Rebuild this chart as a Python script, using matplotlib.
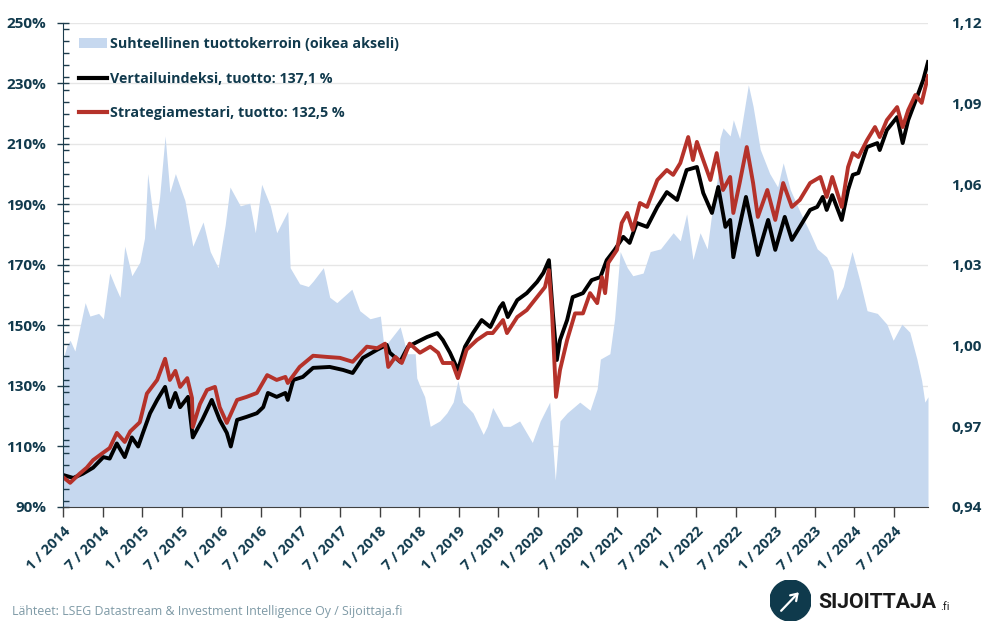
import matplotlib

matplotlib.use("Agg")
import matplotlib.pyplot as plt
from matplotlib.lines import Line2D
from matplotlib.patches import Circle, Patch
from matplotlib.ticker import FixedLocator, MultipleLocator

# relative return ratio (right axis), decimal years
ratio_t = [2014.00, 2014.05, 2014.09, 2014.15, 2014.28, 2014.34, 2014.45, 2014.51, 2014.59, 2014.66,
           2014.72, 2014.78, 2014.87, 2014.97, 2015.03, 2015.07, 2015.16, 2015.22, 2015.29, 2015.35,
           2015.42, 2015.54, 2015.64, 2015.77, 2015.86, 2015.96, 2016.05, 2016.11, 2016.24, 2016.36,
           2016.43, 2016.51, 2016.62, 2016.70, 2016.84, 2016.87, 2016.99, 2017.10, 2017.16, 2017.29,
           2017.37, 2017.46, 2017.65, 2017.75, 2017.88, 2018.01, 2018.05, 2018.10, 2018.26, 2018.35,
           2018.45, 2018.47, 2018.51, 2018.57, 2018.64, 2018.76, 2018.85, 2018.93, 2018.99, 2019.05,
           2019.18, 2019.31, 2019.36, 2019.43, 2019.56, 2019.65, 2019.77, 2019.93, 2020.03, 2020.15,
           2020.22, 2020.28, 2020.37, 2020.53, 2020.66, 2020.75, 2020.79, 2020.91, 2020.97, 2021.04,
           2021.13, 2021.20, 2021.33, 2021.42, 2021.55, 2021.71, 2021.80, 2021.88, 2021.96, 2022.05,
           2022.14, 2022.21, 2022.28, 2022.30, 2022.34, 2022.43, 2022.47, 2022.55, 2022.66, 2022.72,
           2022.81, 2022.93, 2023.03, 2023.10, 2023.19, 2023.31, 2023.44, 2023.53, 2023.65, 2023.73,
           2023.78, 2023.86, 2023.97, 2024.07, 2024.16, 2024.29, 2024.41, 2024.49, 2024.60, 2024.70,
           2024.79, 2024.85, 2024.89, 2024.93]
ratio = [0.995, 1.000, 1.002, 0.998, 1.016, 1.011, 1.012, 1.010, 1.027, 1.022,
         1.018, 1.037, 1.026, 1.031, 1.040, 1.064, 1.043, 1.055, 1.078, 1.057,
         1.064, 1.054, 1.037, 1.046, 1.035, 1.029, 1.045, 1.059, 1.052, 1.053,
         1.042, 1.060, 1.052, 1.042, 1.050, 1.029, 1.023, 1.022, 1.024, 1.029,
         1.018, 1.016, 1.021, 1.013, 1.010, 1.011, 1.001, 1.001, 1.007, 0.997,
         0.997, 0.988, 0.985, 0.981, 0.970, 0.972, 0.975, 0.979, 0.987, 0.979,
         0.975, 0.967, 0.970, 0.977, 0.970, 0.970, 0.972, 0.964, 0.972, 0.979,
         0.950, 0.972, 0.975, 0.979, 0.976, 0.984, 0.995, 0.997, 1.010, 1.035,
         1.029, 1.026, 1.027, 1.035, 1.036, 1.042, 1.039, 1.049, 1.032, 1.042,
         1.036, 1.052, 1.064, 1.077, 1.081, 1.078, 1.084, 1.077, 1.097, 1.089,
         1.073, 1.064, 1.059, 1.068, 1.058, 1.050, 1.042, 1.036, 1.033, 1.028,
         1.017, 1.022, 1.035, 1.024, 1.013, 1.012, 1.008, 1.002, 1.008, 1.005,
         0.995, 0.987, 0.979, 0.981]

# benchmark index (left axis, %)
bench_t = [2014.00, 2014.13, 2014.25, 2014.38, 2014.51, 2014.59, 2014.68, 2014.78, 2014.87, 2014.95,
           2015.01, 2015.10, 2015.19, 2015.29, 2015.35, 2015.42, 2015.48, 2015.58, 2015.64, 2015.76,
           2015.88, 2015.98, 2016.07, 2016.12, 2016.20, 2016.32, 2016.45, 2016.53, 2016.59, 2016.70,
           2016.81, 2016.84, 2016.91, 2017.03, 2017.16, 2017.37, 2017.54, 2017.66, 2017.79, 2017.97,
           2018.09, 2018.13, 2018.26, 2018.36, 2018.47, 2018.60, 2018.73, 2018.80, 2018.89, 2018.99,
           2019.08, 2019.18, 2019.29, 2019.40, 2019.52, 2019.56, 2019.62, 2019.74, 2019.86, 2019.99,
           2020.07, 2020.14, 2020.19, 2020.24, 2020.28, 2020.37, 2020.44, 2020.57, 2020.68, 2020.79,
           2020.87, 2020.97, 2021.08, 2021.16, 2021.25, 2021.38, 2021.51, 2021.63, 2021.76, 2021.88,
           2022.01, 2022.09, 2022.20, 2022.28, 2022.37, 2022.43, 2022.47, 2022.53, 2022.63, 2022.71,
           2022.78, 2022.91, 2023.00, 2023.12, 2023.21, 2023.31, 2023.44, 2023.53, 2023.60, 2023.65,
           2023.72, 2023.84, 2023.92, 2023.98, 2024.05, 2024.16, 2024.29, 2024.32, 2024.41, 2024.54,
           2024.61, 2024.68, 2024.79, 2024.87, 2024.93]
bench = [100.6, 99.6, 101.0, 103.0, 106.5, 106.0, 111.0, 106.5, 113.0, 110.0,
         114.5, 121.0, 125.4, 129.7, 123.0, 127.7, 123.0, 126.4, 113.0, 118.8,
         125.4, 118.8, 114.5, 110.0, 118.8, 119.8, 121.0, 123.0, 127.7, 126.4,
         127.7, 125.4, 132.0, 133.0, 136.0, 136.3, 135.3, 134.3, 139.3, 142.0,
         143.6, 141.0, 138.0, 143.0, 144.5, 146.2, 147.5, 145.2, 141.0, 135.3,
         143.0, 147.5, 151.8, 149.5, 156.0, 157.4, 152.8, 158.4, 160.7, 164.4,
         167.4, 171.6, 154.0, 138.6, 145.2, 151.8, 159.4, 160.7, 165.0, 166.0,
         171.6, 175.0, 179.3, 177.3, 183.9, 182.6, 189.2, 194.1, 191.5, 201.4,
         202.4, 193.8, 187.2, 195.8, 182.6, 184.9, 172.6, 180.6, 192.5, 182.6,
         173.3, 184.9, 175.0, 185.9, 178.3, 182.6, 188.2, 189.2, 192.5, 188.2,
         193.1, 184.9, 194.8, 199.8, 200.4, 209.0, 210.3, 208.0, 214.6, 218.9,
         210.3, 217.9, 225.5, 231.2, 237.1]

# strategy (left axis, %)
strat_t = [2014.00, 2014.09, 2014.21, 2014.30, 2014.38, 2014.51, 2014.59, 2014.68, 2014.78, 2014.85,
           2014.97, 2015.06, 2015.19, 2015.29, 2015.35, 2015.42, 2015.48, 2015.57, 2015.63, 2015.64,
           2015.73, 2015.82, 2015.92, 2015.98, 2016.07, 2016.20, 2016.32, 2016.45, 2016.58, 2016.70,
           2016.81, 2016.84, 2016.99, 2017.16, 2017.34, 2017.50, 2017.66, 2017.84, 2017.97, 2018.07,
           2018.11, 2018.20, 2018.28, 2018.38, 2018.51, 2018.64, 2018.74, 2018.80, 2018.92, 2018.99,
           2019.10, 2019.23, 2019.36, 2019.43, 2019.56, 2019.61, 2019.74, 2019.86, 2019.99, 2020.09,
           2020.14, 2020.18, 2020.23, 2020.28, 2020.37, 2020.47, 2020.57, 2020.66, 2020.75, 2020.81,
           2020.85, 2020.89, 2021.00, 2021.06, 2021.13, 2021.20, 2021.29, 2021.38, 2021.51, 2021.63,
           2021.71, 2021.80, 2021.90, 2021.96, 2022.01, 2022.09, 2022.18, 2022.26, 2022.34, 2022.43,
           2022.47, 2022.55, 2022.64, 2022.72, 2022.78, 2022.90, 2023.00, 2023.10, 2023.21, 2023.31,
           2023.44, 2023.57, 2023.65, 2023.72, 2023.84, 2023.92, 2023.98, 2024.05, 2024.16, 2024.26,
           2024.32, 2024.41, 2024.54, 2024.61, 2024.68, 2024.77, 2024.85, 2024.93]
strat = [99.9, 98.0, 101.0, 103.0, 105.5, 108.0, 109.5, 114.5, 111.5, 115.0,
         118.0, 127.5, 132.0, 139.0, 132.0, 135.0, 129.7, 132.6, 126.0, 116.4,
         124.0, 128.7, 129.7, 123.0, 117.8, 125.4, 126.4, 127.7, 133.6, 132.0,
         133.0, 131.0, 136.3, 140.0, 139.6, 139.3, 138.0, 143.0, 142.5, 144.0,
         136.3, 139.6, 137.6, 144.0, 141.0, 143.0, 141.0, 137.6, 137.6, 132.6,
         142.0, 145.2, 147.5, 147.5, 151.8, 147.5, 152.8, 155.1, 159.4, 162.7,
         168.3, 154.0, 126.4, 135.3, 145.2, 154.0, 154.0, 160.7, 157.4, 166.0,
         160.7, 170.7, 175.0, 183.9, 187.2, 181.6, 190.5, 189.2, 198.1, 201.4,
         199.8, 203.7, 212.3, 204.7, 210.7, 204.7, 198.1, 207.0, 194.8, 199.1,
         187.2, 197.1, 209.0, 197.1, 185.9, 194.8, 184.9, 197.1, 189.2, 191.5,
         197.1, 199.1, 192.5, 199.1, 189.2, 202.4, 207.0, 205.7, 211.3, 215.6,
         212.3, 217.9, 222.2, 215.6, 221.2, 226.2, 223.6, 232.5]

left_ticks = [90, 110, 130, 150, 170, 190, 210, 230, 250]
right_ticks = [0.94, 0.97, 1.00, 1.03, 1.06, 1.09, 1.12]
x_ticks = [2014.0, 2014.5, 2015.0, 2015.5, 2016.0, 2016.5, 2017.0, 2017.5, 2018.0, 2018.5, 2019.0,
           2019.5, 2020.0, 2020.5, 2021.0, 2021.5, 2022.0, 2022.5, 2023.0, 2023.5, 2024.0, 2024.5]
x_labels = ["1 / 2014", "7 / 2014", "1 / 2015", "7 / 2015", "1 / 2016", "7 / 2016", "1 / 2017",
            "7 / 2017", "1 / 2018", "7 / 2018", "1 / 2019", "7 / 2019", "1 / 2020", "7 / 2020",
            "1 / 2021", "7 / 2021", "1 / 2022", "7 / 2022", "1 / 2023", "7 / 2023", "1 / 2024",
            "7 / 2024"]
legend_labels = ["Suhteellinen tuottokerroin (oikea akseli)",
                 "Vertailuindeksi, tuotto: 137,1 %",
                 "Strategiamestari, tuotto: 132,5 %"]

TEXT = "#113a4d"
AREA = "#c6d8ef"
RED = "#b5322a"
plt.rcParams["font.family"] = ["Open Sans", "DejaVu Sans"]

W, H = 985, 635
fig = plt.figure(figsize=(W / 100, H / 100), dpi=100)
rect = [63 / W, 1 - 507 / H, (928 - 63) / W, (507 - 23) / H]

# bottom layer: gridlines only
ax = fig.add_axes(rect)
ax.set_ylim(90, 250)
ax.yaxis.set_major_locator(FixedLocator(left_ticks))
ax.grid(axis="y", color="#e6e6e6", lw=1)
ax.tick_params(length=0, labelleft=False, labelbottom=False)
for s in ax.spines.values():
    s.set_visible(False)

# area on the right axis
ax2 = fig.add_axes(rect, sharex=ax)
ax2.patch.set_visible(False)
ax2.fill_between(ratio_t, ratio, 0.94, color=AREA, lw=0)
ax2.set_ylim(0.94, 1.12)
ax2.yaxis.tick_right()
ax2.yaxis.set_major_locator(FixedLocator(right_ticks))
ax2.set_yticklabels([f"{v:.2f}".replace(".", ",") for v in right_ticks])
ax2.tick_params(axis="y", length=0, pad=17, labelsize=11, labelcolor=TEXT)
for lab in ax2.get_yticklabels():
    lab.set_fontweight("bold")
ax2.tick_params(axis="x", length=0, labelbottom=False)
for s in ax2.spines.values():
    s.set_visible(False)

# lines and left axis on top
ax3 = fig.add_axes(rect, sharex=ax)
ax3.patch.set_visible(False)
ax3.plot(bench_t, bench, color="black", lw=2.8, solid_joinstyle="round")
ax3.plot(strat_t, strat, color=RED, lw=2.8, solid_joinstyle="round")
ax3.set_ylim(90, 250)
ax3.set_xlim(2014.0, 2024.93)
ax3.yaxis.set_major_locator(FixedLocator(left_ticks))
ax3.yaxis.set_minor_locator(MultipleLocator(4))
ax3.set_yticklabels([f"{v}%" for v in left_ticks])
ax3.tick_params(axis="y", which="major", direction="inout", length=8, width=1,
                color="#1d3c4c", pad=8, labelsize=11, labelcolor=TEXT)
ax3.tick_params(axis="y", which="minor", direction="in", length=4, width=1, color="#1d3c4c")
for lab in ax3.get_yticklabels():
    lab.set_fontweight("bold")
ax3.set_xticks(x_ticks)
ax3.set_xticklabels(x_labels, rotation=45, ha="right", rotation_mode="anchor",
                    fontsize=10.5, fontweight="bold", color=TEXT)
ax3.tick_params(axis="x", direction="out", length=7, width=1, color="#404040", pad=5)
ax3.spines["top"].set_visible(False)
ax3.spines["right"].set_visible(False)
ax3.spines["left"].set_color("#1d3c4c")
ax3.spines["bottom"].set_color("#404040")

handles = [Patch(facecolor=AREA, edgecolor="none"),
           Line2D([], [], color="black", lw=3),
           Line2D([], [], color=RED, lw=3)]
leg = ax3.legend(handles, legend_labels, loc="upper left", bbox_to_anchor=(0.004, 0.998),
                 frameon=False, handlelength=1.9, handleheight=0.65, handletextpad=0.25,
                 labelspacing=1.45, prop={"size": 10.3, "weight": "bold"})
for t in leg.get_texts():
    t.set_color(TEXT)

fig.text(12 / W, 1 - 611 / H, "Lähteet: LSEG Datastream & Investment Intelligence Oy / Sijoittaja.fi",
         fontsize=8.9, color="#7f9aa6", va="center")

# logo
lax = fig.add_axes([770 / W, 1 - 621 / H, 41 / W, 41 / H])
lax.set_aspect("equal")
lax.set_xlim(-1, 1)
lax.set_ylim(-1, 1)
lax.axis("off")
lax.add_patch(Circle((0, 0), 1, color="#0f3a4c"))
lax.annotate("", xy=(0.5, 0.5), xytext=(-0.55, -0.6),
             arrowprops=dict(arrowstyle="->,head_length=0.45,head_width=0.3", color="white", lw=1.6))
fig.text(818 / W, 1 - 602 / H, "SIJOITTAJA", fontsize=15.3, fontweight="bold", color="#1a1a1a",
         va="center", family=["Roboto", "DejaVu Sans"])
fig.text(940 / W, 1 - 607 / H, ".fi", fontsize=8, color="#1a1a1a", va="center",
         family=["Roboto", "DejaVu Sans"])

fig.savefig("out.png", dpi=100)
